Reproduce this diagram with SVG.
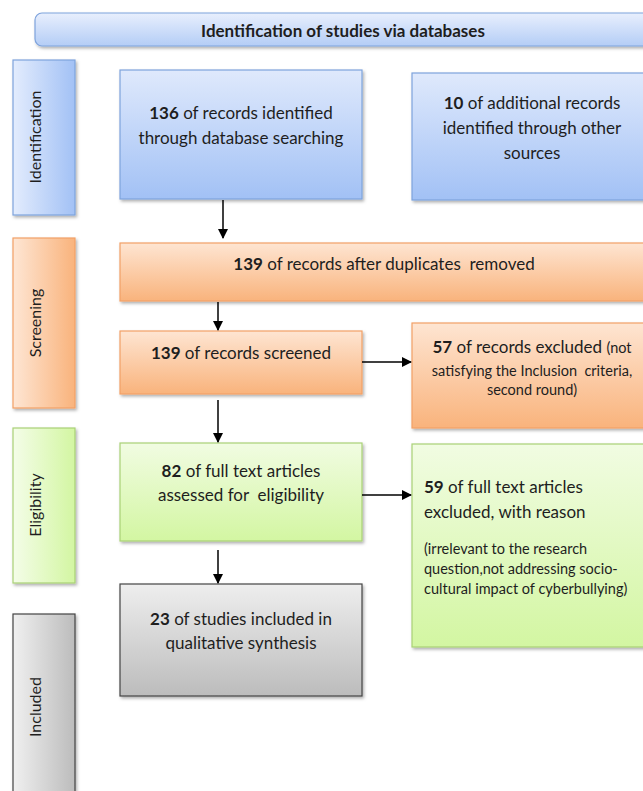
<svg xmlns="http://www.w3.org/2000/svg" width="643" height="791" viewBox="0 0 643 791">
<defs>
<linearGradient id="gBlueV" x1="0" y1="0" x2="0" y2="1"><stop offset="0" stop-color="#dfe9fc"/><stop offset="1" stop-color="#a2c1f5"/></linearGradient>
<linearGradient id="gBlueH" x1="0" y1="0" x2="1" y2="0"><stop offset="0" stop-color="#e3ecfd"/><stop offset="1" stop-color="#a2c1f5"/></linearGradient>
<linearGradient id="gHead" x1="0" y1="0" x2="0" y2="1"><stop offset="0" stop-color="#e8effd"/><stop offset="1" stop-color="#b4cdf6"/></linearGradient>
<linearGradient id="gOrV" x1="0" y1="0" x2="0" y2="1"><stop offset="0" stop-color="#fee5d2"/><stop offset="1" stop-color="#f9b37c"/></linearGradient>
<linearGradient id="gOrH" x1="0" y1="0" x2="1" y2="0"><stop offset="0" stop-color="#fee6d4"/><stop offset="1" stop-color="#f9b37c"/></linearGradient>
<linearGradient id="gGrV" x1="0" y1="0" x2="0" y2="1"><stop offset="0" stop-color="#f1fce2"/><stop offset="1" stop-color="#d3f6a2"/></linearGradient>
<linearGradient id="gGrH" x1="0" y1="0" x2="1" y2="0"><stop offset="0" stop-color="#f4fde8"/><stop offset="1" stop-color="#d3f6a2"/></linearGradient>
<linearGradient id="gGyV" x1="0" y1="0" x2="0" y2="1"><stop offset="0" stop-color="#eeeeee"/><stop offset="1" stop-color="#bcbcbc"/></linearGradient>
<linearGradient id="gGyH" x1="0" y1="0" x2="1" y2="0"><stop offset="0" stop-color="#f0f0f0"/><stop offset="1" stop-color="#bcbcbc"/></linearGradient>
<filter id="sh" x="-10%" y="-10%" width="130%" height="130%"><feDropShadow dx="1.5" dy="2" stdDeviation="1.5" flood-color="#000" flood-opacity="0.3"/></filter>
<marker id="arr" markerWidth="10" markerHeight="10" refX="9" refY="5" orient="auto" markerUnits="userSpaceOnUse"><path d="M0,0 L10,5 L0,10 Z" fill="#000"/></marker>
</defs>
<style>
text{font-family:Lato,"Open Sans","Liberation Sans",sans-serif;fill:#1e1e1e;}
.t{font-size:17px;text-anchor:middle;}
.tl{font-size:17px;}
.s{font-size:14.5px;}
.side{font-size:16px;text-anchor:middle;}
.hd{font-size:17px;font-weight:bold;text-anchor:middle;}
.b{font-weight:bold;}
.blue{stroke:#7ea3dc;stroke-width:1.2;}
.or{stroke:#f2a066;stroke-width:1.2;}
.gr{stroke:#a9d176;stroke-width:1.2;}
.gy{stroke:#444;stroke-width:1.2;}
.c{stroke:#000;stroke-width:1.5;fill:none;}
</style>

<g id="header"><rect x="35" y="13" width="630" height="33" rx="7" fill="url(#gHead)" class="blue" filter="url(#sh)"/>
<text class="hd" x="343" y="37">Identification of studies via databases</text></g>

<g id="side-identification"><rect x="13" y="60" width="62" height="155" fill="url(#gBlueH)" class="blue" filter="url(#sh)"/>
<text class="side" transform="translate(41,137) rotate(-90)">Identification</text></g>
<g id="side-screening"><rect x="13" y="238" width="62" height="170" fill="url(#gOrH)" class="or" filter="url(#sh)"/>
<text class="side" transform="translate(41,323) rotate(-90)">Screening</text></g>
<g id="side-eligibility"><rect x="13" y="428" width="62" height="155" fill="url(#gGrH)" class="gr" filter="url(#sh)"/>
<text class="side" transform="translate(41,505) rotate(-90)">Eligibility</text></g>
<g id="side-included"><rect x="13" y="614" width="62" height="190" fill="url(#gGyH)" class="gy" filter="url(#sh)"/>
<text class="side" transform="translate(41,707) rotate(-90)">Included</text></g>

<g id="n136"><rect x="120" y="70" width="242" height="129" fill="url(#gBlueV)" class="blue" filter="url(#sh)"/>
<text class="t" x="241" y="119"><tspan class="b">136</tspan> of records identified</text>
<text class="t" x="241" y="144">through database searching</text></g>

<g id="n10"><rect x="412" y="73" width="240" height="127" fill="url(#gBlueV)" class="blue" filter="url(#sh)"/>
<text class="t" x="532" y="109"><tspan class="b">10</tspan> of additional records</text>
<text class="t" x="532" y="134">identified through other</text>
<text class="t" x="532" y="159">sources</text></g>

<g id="n139dup"><rect x="120" y="243" width="540" height="58" fill="url(#gOrV)" class="or" filter="url(#sh)"/>
<text class="t" x="384" y="270" xml:space="preserve"><tspan class="b">139</tspan> of records after duplicates  removed</text></g>

<g id="n139scr"><rect x="120" y="331" width="242" height="63" fill="url(#gOrV)" class="or" filter="url(#sh)"/>
<text class="t" x="241" y="359"><tspan class="b">139</tspan> of records screened</text></g>

<g id="n57"><rect x="412" y="323" width="240" height="105" fill="url(#gOrV)" class="or" filter="url(#sh)"/>
<text class="t" x="532" y="353"><tspan class="b">57</tspan> of records excluded <tspan class="s">(not</tspan></text>
<text class="t s" x="532" y="376" xml:space="preserve">satisfying the Inclusion  criteria,</text>
<text class="t s" x="532" y="395">second round)</text></g>

<g id="n82"><rect x="120" y="443" width="242" height="98" fill="url(#gGrV)" class="gr" filter="url(#sh)"/>
<text class="t" x="241" y="477"><tspan class="b">82</tspan> of full text articles</text>
<text class="t" x="241" y="501" xml:space="preserve">assessed for  eligibility</text></g>

<g id="n59"><rect x="412" y="444" width="240" height="203" fill="url(#gGrV)" class="gr" filter="url(#sh)"/>
<text class="tl" x="424" y="493"><tspan class="b">59</tspan> of full text articles</text>
<text class="tl" x="424" y="518">excluded, with reason</text>
<text class="s" x="424" y="554">(irrelevant to the research</text>
<text class="s" x="424" y="574">question,not addressing socio-</text>
<text class="s" x="424" y="594">cultural impact of cyberbullying)</text></g>

<g id="n23"><rect x="120" y="584" width="242" height="112" fill="url(#gGyV)" class="gy" filter="url(#sh)"/>
<text class="t" x="241" y="625"><tspan class="b">23</tspan> of studies included in</text>
<text class="t" x="241" y="649">qualitative synthesis</text></g>

<g id="connectors">
<line class="c" x1="223" y1="200" x2="223" y2="238" marker-end="url(#arr)"/>
<line class="c" x1="218" y1="302" x2="218" y2="330" marker-end="url(#arr)"/>
<line class="c" x1="362" y1="362" x2="411" y2="362" marker-end="url(#arr)"/>
<line class="c" x1="218" y1="400" x2="218" y2="442" marker-end="url(#arr)"/>
<line class="c" x1="362" y1="495" x2="411" y2="495" marker-end="url(#arr)"/>
<line class="c" x1="218" y1="550" x2="218" y2="583" marker-end="url(#arr)"/>
</g>
</svg>
